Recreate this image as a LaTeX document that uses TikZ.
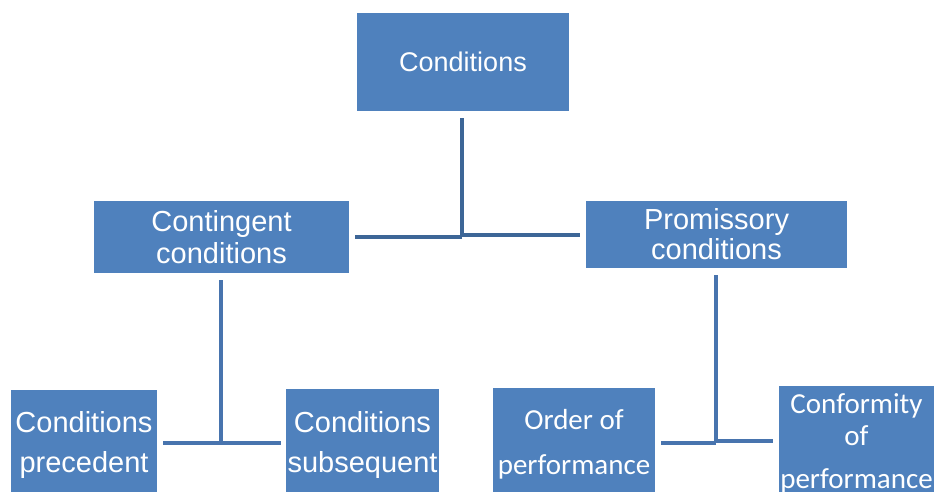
\documentclass[tikz,border=0pt]{standalone}
\usepackage{fontspec}
\setmainfont{Liberation Sans}
\newfontfamily\calfont{Carlito}
\usetikzlibrary{calc}
\definecolor{boxblue}{RGB}{79,129,189}
\definecolor{linkdark}{RGB}{61,102,151}
\definecolor{linkblue}{RGB}{72,116,174}

\begin{document}
\begin{tikzpicture}[x=1pt, y=-1pt]
    \tikzset{
        box/.style = {fill = boxblue, draw = none, text = white, inner sep = 0pt, align = center},
        link/.style = {draw = linkdark, line width = 4.5pt},
        sublink/.style = {draw = linkblue, line width = 4pt}
    }
    \useasboundingbox (0,0) rectangle (934,492);

    \node[box, minimum width = 212pt, minimum height = 98pt, font = \fontsize{27}{30}\selectfont] (root) at (463,62) {Conditions};

    \node[box, minimum width = 255pt, minimum height = 72pt, font = \fontsize{29}{32}\selectfont] (cont) at (221.5,237) {Contingent\\conditions};
    \node[box, minimum width = 261pt, minimum height = 67pt, font = \fontsize{29}{30}\selectfont] (prom) at (716.5,234.5) {Promissory\\conditions};

    % bottom row runs off the lower edge
    \node[box, minimum width = 146pt, minimum height = 110pt, font = \fontsize{29}{40}\selectfont] (prec) at (84,445) {Conditions\\precedent};
    \node[box, minimum width = 153pt, minimum height = 111pt, font = \fontsize{29}{40}\selectfont] (subs) at (362.5,444.5) {Conditions\\subsequent};
    \node[box, minimum width = 162pt, minimum height = 113pt, font = \calfont\fontsize{29}{45}\selectfont] (order) at (574,444.5) {Order of\\performance};
    \node[box, minimum width = 155pt, minimum height = 115pt, font = \calfont\fontsize{29}{32}\selectfont] (conf) at (856.5,443.5) {Conformity\\of\\[11pt]performance};

    % top level joint
    \coordinate (jroot) at (462,237);
    \draw[link, shorten <= 7pt] (jroot |- root.south) -- (jroot);
    \draw[link, shorten >= 6pt] (jroot) -- (jroot -| cont.east);
    \draw[link, shorten >= 6pt] ($(jroot)+(0,-2)$) -- ($(jroot -| prom.west)+(0,-2)$);

    % contingent branch
    \coordinate (jcont) at (221,443);
    \draw[sublink, shorten <= 7pt] (jcont |- cont.south) -- (jcont);
    \draw[sublink, shorten >= 6pt] (jcont) -- (jcont -| prec.east);
    \draw[sublink, shorten >= 5pt] (jcont) -- (jcont -| subs.west);

    % promissory branch
    \coordinate (jprom) at (716,442);
    \draw[sublink, shorten <= 7pt] (jprom |- prom.south) -- (jprom);
    \draw[sublink, shorten >= 6pt] ($(jprom)+(0,1)$) -- ($(jprom -| order.east)+(0,1)$);
    \draw[sublink, shorten >= 6pt] ($(jprom)+(0,-1)$) -- ($(jprom -| conf.west)+(0,-1)$);
\end{tikzpicture}
\end{document}
